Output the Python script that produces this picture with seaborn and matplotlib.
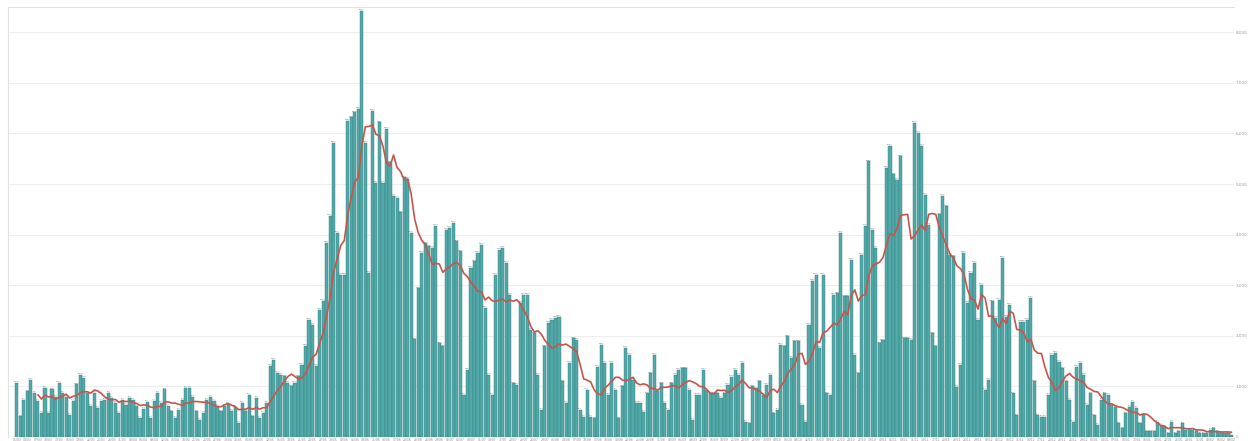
import matplotlib
matplotlib.use("Agg")
import matplotlib.pyplot as plt
import numpy as np
import pandas as pd
import seaborn as sns

sns.set_style("white")

## daily counts (first wave, trough, second wave)
wave1_cases = [
    1070, 410, 740, 900, 1130, 870, 710, 480, 970, 480, 940, 800, 1070, 870,
    800, 440, 710, 1040, 1230, 1170, 870, 610, 870, 570, 710, 740, 870, 770,
    670, 480, 740, 640, 770, 740, 610, 380, 560, 690, 380, 710, 870, 670, 940,
    610, 510, 380, 540, 740, 970, 970, 800, 510, 340, 480, 740, 800, 710, 610,
    510, 610, 650, 520, 600, 280, 670, 510, 840, 410, 770, 380, 480, 670,
    1400, 1530, 1270, 1230, 1200, 1070, 1000, 1070, 1200, 1430, 1800, 2320,
    2220, 1400, 2520, 2690, 3840, 4370, 5820, 4040, 3210, 3210, 6250, 6320,
    6420, 6480, 8430, 5820, 3250, 6450, 5030, 6220, 5030, 6090, 5430, 4770,
    4730, 4440, 5130, 5100, 4040, 1930,
]
trough_cases = [
    2940, 3640, 3830, 3770, 3740, 4170, 1850, 1790, 4100, 4130, 4230, 3870,
    3670, 830, 1330, 3340, 3470, 3640, 3800, 2550, 1230, 830, 3210, 3700,
    3740, 3440, 2810, 1060, 1030, 2650, 2810, 2810, 2120, 2050, 1230, 540,
    1790, 2250, 2320, 2350, 2380, 1100, 670, 1460, 1950, 1920, 540, 400, 930,
    400, 370, 1390, 1820, 1460, 830, 1460, 930, 370, 1000, 1760, 1620, 1130,
    670, 670, 500, 860, 1260, 1620, 900, 1060, 670, 540, 1060, 1230, 1330,
    1360, 1360, 930, 340, 830, 830, 1330, 930, 860, 860, 860, 770, 860, 1030,
    1190, 1330, 1230, 1460, 300, 270, 1000, 960, 1100, 830, 1030, 1230, 470,
    540, 1820, 1790, 1990, 1560, 1890, 1890, 630, 300, 2220, 3080, 3210, 1760,
]
wave2_cases = [
    3210, 860, 830, 2810, 2840, 4030, 2780, 2780, 3500, 1620, 1260, 3600,
    4170, 5450, 4100, 3740, 1850, 1910, 5320, 5750, 5190, 5090, 5550, 1950,
    1950, 1920, 6210, 6010, 5750, 4790, 4200, 2050, 1790, 4400, 4770, 4560,
    3600, 3570, 990, 1420, 3640, 2650, 3240, 3440, 2320, 3010, 930, 1130,
    2680, 2350, 2710, 3540, 2380, 2610, 860, 430, 2280, 2280, 2320, 2750,
    1100, 430, 400, 400, 830, 1620, 1660, 1490, 1360, 1100, 730, 300, 1390,
    1460, 1230, 630, 860, 430, 240, 730, 860, 830, 630, 600, 270, 170, 470,
    600, 690, 570, 270, 430, 110, 110, 110, 300, 240, 200, 70, 300, 70, 110,
    270, 140, 140, 140, 110, 70, 70, 70, 140, 170, 110, 70, 70, 70, 40,
]
grid_ticks = [0, 1000, 2000, 3000, 4000, 5000, 6000, 7000, 8000]

cases = wave1_cases + trough_cases + wave2_cases
n = len(cases)
day_labels = list(pd.date_range("2020-03-01", periods=n).strftime("%d/%m"))

df = pd.DataFrame({"day": np.arange(n), "cases": cases})
df["avg"] = df["cases"].rolling(7).mean()

fig = plt.figure(figsize=(12.48, 4.41), dpi=100)
ax = fig.add_axes([8 / 1248, 4 / 441, 1226 / 1248, 430 / 441])

sns.barplot(
    data=df, x="day", y="cases", color="#52a9a8", saturation=1, width=0.88,
    edgecolor="#317f7f", linewidth=0.3, ax=ax,
)
sns.lineplot(data=df, x="day", y="avg", color="#c9544c", linewidth=1.2, ax=ax)

ax.bar_label(ax.containers[0], labels=[f"{v:,}" for v in cases],
             fontsize=1.4, color="#666666", padding=0.5)

ax.set_xlim(-2.5, n - 0.3)
ax.set_ylim(0, 8500)
ax.yaxis.tick_right()
ax.set_yticks(grid_ticks)
ax.set_yticklabels([f"{v:,}" for v in grid_ticks], fontsize=3, color="#999999")
ax.set_xticks(range(0, n, 3))
ax.set_xticklabels(day_labels[::3], fontsize=2.2, color="#888888")
ax.tick_params(length=0, pad=1)
ax.grid(axis="y", color="#eeeeee", linewidth=0.8)
ax.set_axisbelow(True)
ax.set_xlabel("")
ax.set_ylabel("")
for side in ["right", "bottom"]:
    ax.spines[side].set_visible(False)
for side in ["top", "left"]:
    ax.spines[side].set_color("#e2e2e2")
    ax.spines[side].set_linewidth(0.8)

fig.savefig("out.png", dpi=100)
